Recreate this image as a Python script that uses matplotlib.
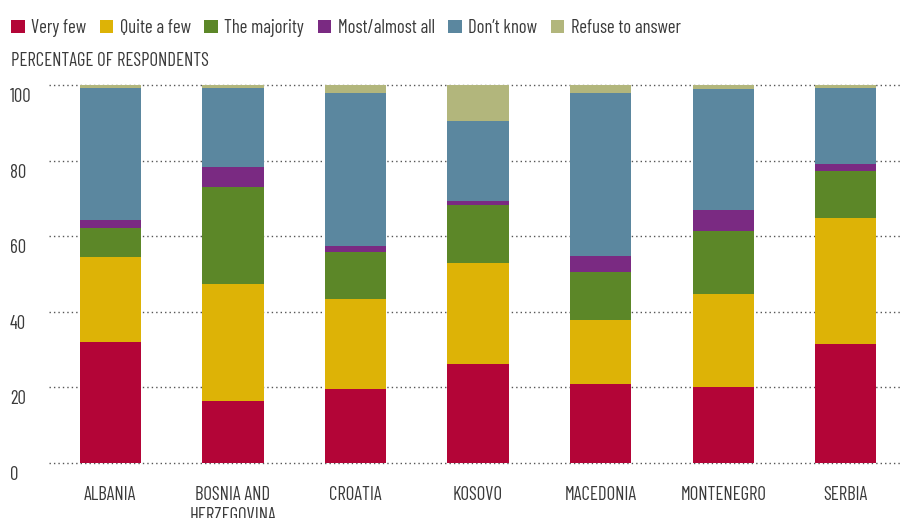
import matplotlib
matplotlib.use("Agg")
import matplotlib.pyplot as plt
import matplotlib.transforms as mtransforms
from matplotlib.patches import Patch
import numpy as np

plt.rcParams['font.family'] = ['Barlow Condensed', 'DejaVu Sans']

countries = ["ALBANIA", "BOSNIA AND\nHERZEGOVINA", "CROATIA", "KOSOVO",
             "MACEDONIA", "MONTENEGRO", "SERBIA"]
categories = ["Very few", "Quite a few", "The majority", "Most/almost all",
              "Don\u2019t know", "Refuse to answer"]
very_few      = [32.1, 16.5, 19.6, 26.3, 21.0, 20.2, 31.5]
quite_a_few   = [22.4, 30.9, 23.8, 26.7, 16.9, 24.6, 33.3]
the_majority  = [7.7, 25.6, 12.5, 15.3, 12.7, 16.6, 12.5]
most_all      = [2.1, 5.3, 1.5, 1.0, 4.2, 5.6, 1.8]
dont_know     = [35.0, 21.0, 40.5, 21.2, 43.1, 31.9, 20.2]
refuse        = [0.7, 0.7, 2.1, 9.5, 2.1, 1.1, 0.7]
yticks = [0, 20, 40, 60, 80, 100]

series = [very_few, quite_a_few, the_majority, most_all, dont_know, refuse]
colors = ["#B30537", "#DDB306", "#5C8728", "#7A2A82", "#5B879F", "#B2B67C"]
text_color = "#3a3a3a"
fs = 13.5

fig = plt.figure(figsize=(9.01, 5.18), dpi=100)
ax = fig.add_axes([49/901, 55/518, 852/901, 378/518])

x = np.arange(len(countries))
bottom = np.zeros(len(countries))
for vals, col, lab in zip(series, colors, categories):
    v = np.array(vals)
    ax.bar(x, v, bottom=bottom, width=0.5, color=col, label=lab, zorder=2, linewidth=0)
    bottom += v

ax.set_xlim(-0.5, 6.45)
ax.set_ylim(0, 100)
ax.set_yticks(yticks)
ax.yaxis.grid(True, linestyle=(0, (1, 2.2)), color="#555555", linewidth=1.0, zorder=0)
for gl in ax.get_ygridlines():
    gl.set_clip_on(False)
for s in ax.spines.values():
    s.set_visible(False)
ax.tick_params(axis='both', length=0)
ax.set_yticklabels([str(t) for t in yticks], fontsize=fs, color=text_color, ha='left')
ax.tick_params(axis='y', pad=28)
off = mtransforms.ScaledTranslation(0, -10/100, fig.dpi_scale_trans)
for lbl in ax.get_yticklabels():
    lbl.set_transform(lbl.get_transform() + off)
ax.set_xticks(x)
ax.set_xticklabels(countries, fontsize=fs, color=text_color, linespacing=1.2)
ax.tick_params(axis='x', pad=16.5)

handles = [Patch(facecolor=c, edgecolor='none') for c in colors]
fig.legend(handles, categories, loc='upper left', bbox_to_anchor=(11/901, 1 - 19/518),
           ncol=6, frameon=False, fontsize=fs, handlelength=0.72, handleheight=0.72,
           handletextpad=0.35, columnspacing=0.72, borderaxespad=0, borderpad=0,
           labelcolor=text_color)

fig.text(11/901, 1 - 66/518, "PERCENTAGE OF RESPONDENTS", fontsize=fs, color=text_color,
         ha='left', va='baseline')

fig.savefig("out.png", dpi=100)
